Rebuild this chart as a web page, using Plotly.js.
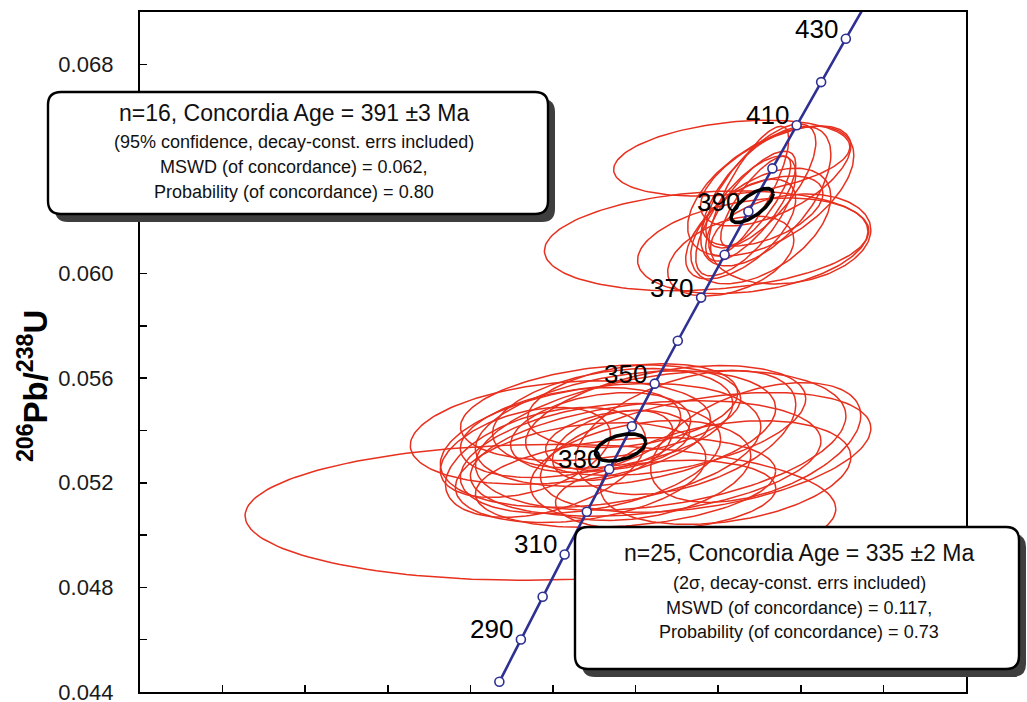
<!DOCTYPE html>
<html>
<head>
<meta charset="utf-8">
<script src="https://cdn.plot.ly/plotly-3.0.1.min.js"></script>
<style>
  html, body { margin: 0; padding: 0; background: #ffffff; }
  #chart { width: 1027px; height: 702px; }
</style>
</head>
<body>
<div id="chart"></div>
<script>
// ---- Concordia curve: ages (Ma) with their 207Pb/235U and 206Pb/238U ratios ----
const concAge = [280, 290, 300, 310, 320, 330, 340, 350, 360, 370, 380, 390, 400, 410, 420, 430, 440];
const concX = [0.31753, 0.33057, 0.34374, 0.35704, 0.37047, 0.38403, 0.39773, 0.41156, 0.42553,
               0.43964, 0.45389, 0.46828, 0.48281, 0.49749, 0.51231, 0.52727, 0.54240];
const concY = [0.04439, 0.04601, 0.04764, 0.04926, 0.05089, 0.05252, 0.05416, 0.05579, 0.05743,
               0.05908, 0.06072, 0.06237, 0.06402, 0.06567, 0.06732, 0.06898, 0.07064];
const labelAges = [290, 310, 330, 350, 370, 390, 410, 430];

// ---- Older zircon population (n=16): centre, ellipse half-widths, error correlation ----
const oldX = [0.4582, 0.4430, 0.4709, 0.4939, 0.4758, 0.4697, 0.4788, 0.4667,
              0.4848, 0.4636, 0.4818, 0.4576, 0.4727, 0.4770, 0.4685, 0.4758];
const oldY = [0.06441, 0.06125, 0.06106, 0.06132, 0.06335, 0.06258, 0.06296, 0.06220,
              0.06373, 0.06170, 0.06315, 0.06067, 0.06277, 0.06239, 0.06315, 0.06182];
const oldHalfX = [0.0715, 0.0982, 0.0697, 0.0485, 0.0333, 0.0273, 0.0394, 0.0303,
                  0.0455, 0.0333, 0.0503, 0.0382, 0.0212, 0.0364, 0.0242, 0.0424];
const oldHalfY = [0.00145, 0.00191, 0.00183, 0.00172, 0.00237, 0.00210, 0.00267, 0.00229,
                  0.00191, 0.00191, 0.00248, 0.00153, 0.00172, 0.00134, 0.00248, 0.00221];
const oldRho = [0.3, 0.2, 0.3, 0.2, 0.7, 0.75, 0.6, 0.7, 0.6, 0.6, 0.55, 0.4, 0.8, 0.5, 0.8, 0.5];

// ---- Younger zircon population (n=25) ----
const youngX = [0.3424, 0.3545, 0.3788, 0.3939, 0.4061, 0.3727, 0.3861, 0.4152, 0.4424, 0.4545,
                0.3667, 0.3982, 0.3788, 0.3606, 0.4182, 0.3939, 0.3455, 0.3861, 0.4303, 0.4030,
                0.3333, 0.3788, 0.4727, 0.4182, 0.3891];
const youngY = [0.05087, 0.05392, 0.05343, 0.05407, 0.05293, 0.05293, 0.05446, 0.05362, 0.05316, 0.05239,
                0.05239, 0.05495, 0.05392, 0.05392, 0.05438, 0.05201, 0.05278, 0.05343, 0.05392, 0.05247,
                0.05316, 0.05468, 0.05354, 0.05152, 0.05362];
const youngHalfX = [0.1788, 0.0909, 0.0970, 0.0909, 0.1061, 0.0788, 0.0727, 0.1121, 0.1000, 0.0758,
                    0.0758, 0.0636, 0.0545, 0.0667, 0.0848, 0.0909, 0.0606, 0.0364, 0.0667, 0.0667,
                    0.0515, 0.0848, 0.0636, 0.0667, 0.0436];
const youngHalfY = [0.00260, 0.00198, 0.00237, 0.00221, 0.00221, 0.00210, 0.00191, 0.00267, 0.00229, 0.00198,
                    0.00191, 0.00160, 0.00153, 0.00172, 0.00210, 0.00172, 0.00210, 0.00134, 0.00237, 0.00191,
                    0.00172, 0.00183, 0.00229, 0.00134, 0.00115];
const youngRho = [0.05, 0.25, 0.3, 0.35, 0.3, 0.35, 0.3, 0.35, 0.4, 0.3,
                  0.3, 0.3, 0.3, 0.35, 0.4, 0.25, 0.4, 0.4, 0.45, 0.3,
                  0.4, 0.3, 0.45, 0.2, 0.3];

// ---- Concordia ages (391 Ma and 335 Ma) ----
const ageX = [0.4705, 0.3909];
const ageY = [0.06260, 0.05335];
const ageHalfX = [0.0127, 0.0152];
const ageHalfY = [0.00065, 0.00052];
const ageRho = [0.7, 0.4];

// ---- Axis ticks ----
const yTickVals = [0.044, 0.048, 0.052, 0.056, 0.060, 0.064, 0.068];
const yTickText = ['0.044', '0.048', '0.052', '0.056', '0.060', '0.064', '0.068'];

// ---- Result boxes ----
const oldBoxLines = [
  'n=16, Concordia Age = 391 ±3 Ma',
  '(95% confidence, decay-const. errs included)',
  'MSWD (of concordance) = 0.062,',
  'Probability (of concordance) = 0.80'
];
const youngBoxLines = [
  'n=25, Concordia Age = 335 ±2 Ma',
  '(2σ, decay-const. errs included)',
  'MSWD (of concordance) = 0.117,',
  'Probability (of concordance) = 0.73'
];
const yTitle = '<b><sup>206</sup>Pb/<sup>238</sup>U</b>';

const FONT = '"Liberation Sans", Arial, Helvetica, sans-serif';

// Outline of an error ellipse from its centre, half-widths and correlation
function ellipsePoints(cx, cy, hx, hy, rho, n) {
  const xs = [], ys = [];
  const s = Math.sqrt(1 - rho * rho);
  for (let k = 0; k <= n; k++) {
    const t = 2 * Math.PI * k / n;
    xs.push(cx + hx * Math.cos(t));
    ys.push(cy + hy * (rho * Math.cos(t) + s * Math.sin(t)));
  }
  return [xs, ys];
}

function ellipseTrace(xArr, yArr, hxArr, hyArr, rhoArr, color, width) {
  const X = [], Y = [];
  for (let i = 0; i < xArr.length; i++) {
    const [xs, ys] = ellipsePoints(xArr[i], yArr[i], hxArr[i], hyArr[i], rhoArr[i], 160);
    X.push(...xs, null);
    Y.push(...ys, null);
  }
  return {
    type: 'scatter', mode: 'lines', x: X, y: Y, connectgaps: false,
    line: { color: color, width: width }, hoverinfo: 'skip', showlegend: false
  };
}

const BLUE = '#2e3192';
const RED = '#e8301e';

const traces = [
  ellipseTrace(youngX, youngY, youngHalfX, youngHalfY, youngRho, RED, 1.5),
  ellipseTrace(oldX, oldY, oldHalfX, oldHalfY, oldRho, RED, 1.5),
  {
    type: 'scatter', mode: 'lines+markers', x: concX, y: concY, text: concAge,
    line: { color: BLUE, width: 2.6 },
    marker: { symbol: 'circle', size: 9, color: '#ffffff', line: { color: BLUE, width: 1.6 } },
    hoverinfo: 'text', showlegend: false
  },
  ellipseTrace(ageX, ageY, ageHalfX, ageHalfY, ageRho, '#000000', 3.6)
];

// Plot area in pixels (used to place the result boxes and the axis title)
const PL = 140, PT = 12, PW = 826, PH = 680;
const pxX = p => ((p - PL) / PW);
const pxY = p => ((PT + PH - p) / PH);

function roundRectPath(x0, y0, x1, y1, r) {
  const f = (x, y) => pxX(x).toFixed(5) + ',' + pxY(y).toFixed(5);
  return 'M' + f(x0 + r, y0) + ' L' + f(x1 - r, y0) + ' Q' + f(x1, y0) + ' ' + f(x1, y0 + r) +
         ' L' + f(x1, y1 - r) + ' Q' + f(x1, y1) + ' ' + f(x1 - r, y1) +
         ' L' + f(x0 + r, y1) + ' Q' + f(x0, y1) + ' ' + f(x0, y1 - r) +
         ' L' + f(x0, y0 + r) + ' Q' + f(x0, y0) + ' ' + f(x0 + r, y0) + ' Z';
}

function boxShapes(x0, y0, x1, y1) {
  return [
    { type: 'path', xref: 'paper', yref: 'paper', layer: 'above',
      path: roundRectPath(x0 + 7, y0 + 7, x1 + 7, y1 + 8, 13),
      fillcolor: '#3e3e3e', line: { width: 0 } },
    { type: 'path', xref: 'paper', yref: 'paper', layer: 'above',
      path: roundRectPath(x0, y0, x1, y1, 13),
      fillcolor: '#ffffff', line: { color: '#000000', width: 2.4 } }
  ];
}

function boxAnnotations(lines, cx, ys) {
  return lines.map((t, i) => ({
    xref: 'paper', yref: 'paper', x: pxX(cx), y: pxY(ys[i]),
    xanchor: 'center', yanchor: 'middle', showarrow: false, text: t,
    font: { family: FONT, size: i === 0 ? 23 : 18, color: '#111111' }
  }));
}

const ageLabels = labelAges.map(a => {
  const i = concAge.indexOf(a);
  return {
    xref: 'x', yref: 'y', x: concX[i], y: concY[i], text: String(a),
    xanchor: 'right', yanchor: 'middle', xshift: -6, yshift: 10, showarrow: false,
    font: { family: FONT, size: 26, color: '#000000' }
  };
});

const titleAnnotation = {
  xref: 'paper', yref: 'paper', x: pxX(33), y: pxY(386),
  xanchor: 'center', yanchor: 'middle', textangle: -90, showarrow: false,
  text: yTitle, font: { family: FONT, size: 33, color: '#000000' }
};

const layout = {
  width: 1027, height: 702,
  margin: { l: 140, r: 61, t: 12, b: 10, pad: 0 },
  paper_bgcolor: '#ffffff', plot_bgcolor: '#ffffff',
  font: { family: FONT, color: '#000000' },
  showlegend: false,
  xaxis: {
    range: [0.1, 0.6], tick0: 0.1, dtick: 0.05,
    ticks: 'inside', ticklen: 7, tickwidth: 1.6, tickcolor: '#000000',
    showticklabels: false, showgrid: false, zeroline: false,
    showline: true, linewidth: 2.2, linecolor: '#000000', mirror: true
  },
  yaxis: {
    range: [0.044, 0.070], tickmode: 'array', tickvals: yTickVals, ticktext: yTickText,
    ticks: 'inside', ticklen: 7, tickwidth: 1.6, tickcolor: '#000000',
    minor: { tick0: 0.044, dtick: 0.002, ticks: 'inside', ticklen: 7, tickwidth: 1.6,
             tickcolor: '#000000', showgrid: false },
    ticklabelstandoff: 20, ticklabeloverflow: 'allow',
    tickfont: { family: FONT, size: 22, color: '#1a1a1a' },
    showgrid: false, zeroline: false,
    showline: true, linewidth: 2.2, linecolor: '#000000', mirror: true
  },
  shapes: [].concat(boxShapes(48, 92, 548, 214), boxShapes(575, 527, 1019, 669)),
  annotations: [].concat(
    ageLabels,
    [titleAnnotation],
    boxAnnotations(oldBoxLines, 294, [113, 142, 167, 192]),
    boxAnnotations(youngBoxLines, 799, [553, 583, 608, 632])
  )
};

Plotly.newPlot('chart', traces, layout, { displayModeBar: false, staticPlot: true });
</script>
</body>
</html>
